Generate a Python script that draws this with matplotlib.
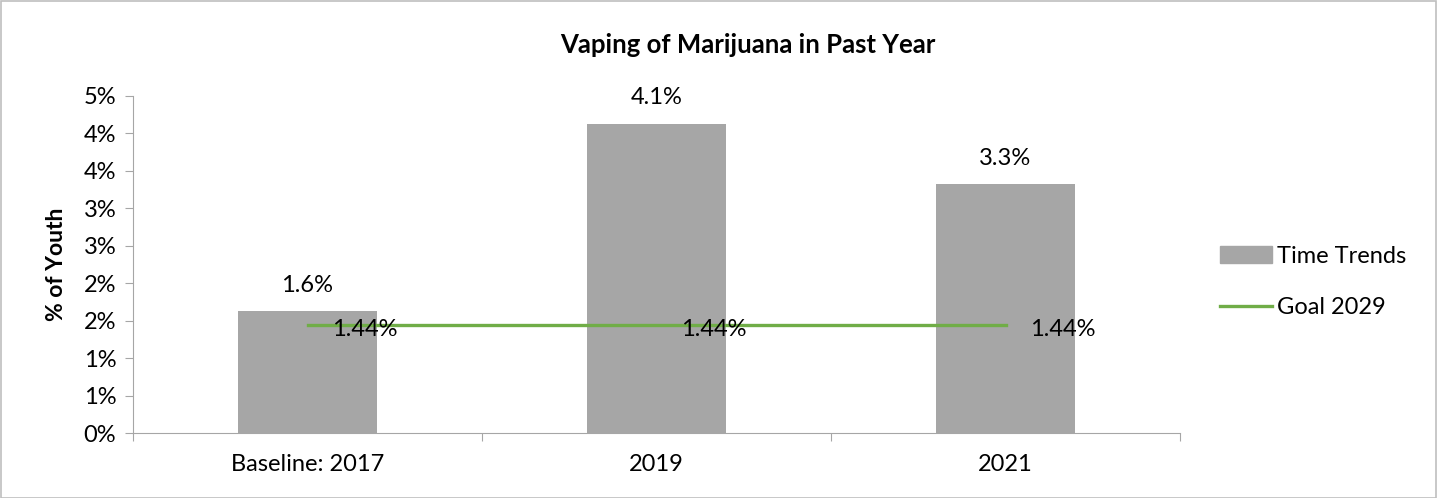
import matplotlib.pyplot as plt
from matplotlib.patches import Rectangle, Patch
from matplotlib.lines import Line2D
from matplotlib.ticker import FuncFormatter, MultipleLocator

categories = ["Baseline: 2017", "2019", "2021"]
time_trends = [1.63, 4.13, 3.32]
trend_labels = ["1.6%", "4.1%", "3.3%"]
goal_2029 = [1.44, 1.44, 1.44]
goal_labels = ["1.44%", "1.44%", "1.44%"]

BAR_COLOR = "#a6a6a6"
LINE_COLOR = "#70ad47"
AXIS_COLOR = "#a6a6a6"
FS = 17

plt.rcParams["font.family"] = ["Lato", "DejaVu Sans"]

fig = plt.figure(figsize=(14.37, 4.98), dpi=100)
ax = fig.add_axes([133 / 1437, 65 / 498, 1047 / 1437, 337 / 498])

x = range(len(categories))
ax.bar(x, time_trends, width=0.4, color=BAR_COLOR, zorder=2)
ax.plot(x, goal_2029, color=LINE_COLOR, linewidth=2.4, zorder=3)

for i, (v, lab) in enumerate(zip(time_trends, trend_labels)):
    ax.annotate(lab, (i, v), xytext=(0, 11), textcoords="offset points",
                ha="center", va="bottom", fontsize=FS)
for i, (v, lab) in enumerate(zip(goal_2029, goal_labels)):
    ax.annotate(lab, (i, v), xytext=(18, -3), textcoords="offset points",
                ha="left", va="center", fontsize=FS, zorder=4)

ax.set_xlim(-0.5, 2.5)
ax.set_ylim(0, 4.5)
ax.yaxis.set_major_locator(MultipleLocator(0.5))
ax.yaxis.set_major_formatter(FuncFormatter(lambda v, p: f"{int(v + 0.5)}%"))
ax.set_xticks([-0.5, 0.5, 1.5, 2.5])
ax.set_xticklabels([])
ax.set_xticks(list(x), categories, minor=True)
ax.tick_params(axis="x", which="minor", length=0, labelsize=FS, pad=15)
ax.tick_params(axis="x", which="major", length=6, color=AXIS_COLOR, direction="out")
ax.tick_params(axis="y", length=6, color=AXIS_COLOR, labelsize=FS, pad=6)

for side in ["top", "right"]:
    ax.spines[side].set_visible(False)
for side in ["left", "bottom"]:
    ax.spines[side].set_color(AXIS_COLOR)

ax.set_ylabel("% of Youth", fontsize=16.5, fontweight="bold", labelpad=12)

fig.text(748 / 1437, 1 - 45 / 498, "Vaping of Marijuana in Past Year",
         ha="center", va="center", fontsize=18.5, fontweight="bold")

handles = [Patch(color=BAR_COLOR, label="Time Trends"),
           Line2D([0], [0], color=LINE_COLOR, linewidth=2.4, label="Goal 2029")]
fig.legend(handles=handles, loc="center left", bbox_to_anchor=(1199 / 1437, 1 - 282 / 498),
           frameon=False, fontsize=FS, handlelength=2.2, handletextpad=0.2,
           labelspacing=1.3)

fig.patches.append(Rectangle((0.0005, 0.001), 0.999, 0.997, transform=fig.transFigure,
                             fill=False, edgecolor="#bfbfbf", linewidth=1.2))

fig.savefig("out.png", dpi=100)
